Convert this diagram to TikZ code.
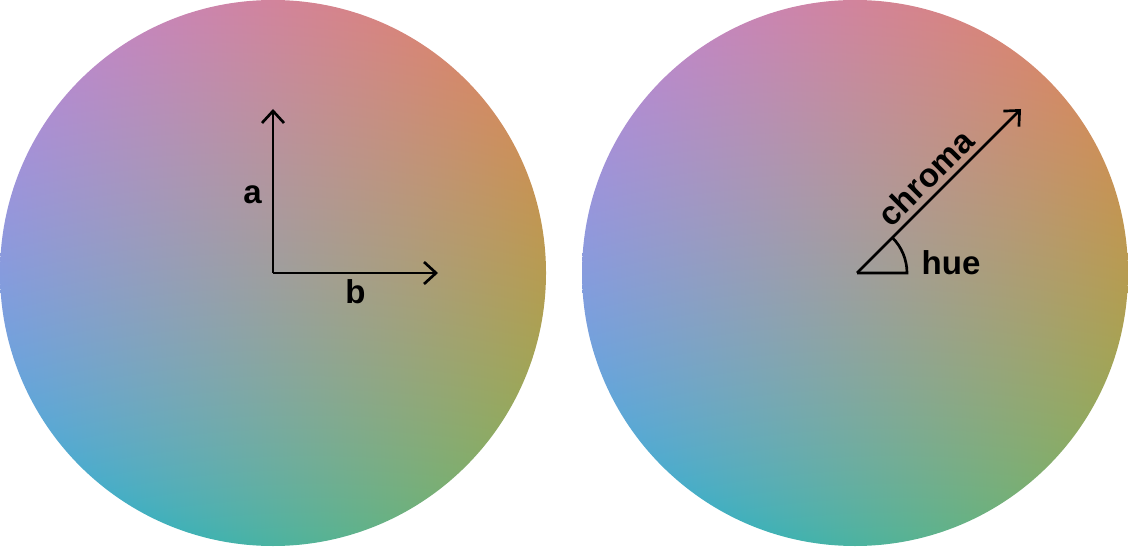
\documentclass[tikz,border=0pt]{standalone}
\usepackage{fontspec}
\setsansfont{Liberation Sans}
\usetikzlibrary{arrows.meta}
% a-b plane at L = 0.7, chroma 0.1 at the rim, converted to sRGB
\pgfdeclarefunctionalshading{labDisc}{\pgfpoint{-50bp}{-50bp}}{\pgfpoint{50bp}{50bp}}{}{
  25 div exch 25 div exch
  1 index 0.0215804 mul 1 index 0.0396338 mul add 0.7 add dup dup mul mul
  2 index -0.0063854 mul 2 index -0.0105561 mul add 0.7 add dup dup mul mul
  3 index -0.1291486 mul 3 index -0.0089484 mul add 0.7 add dup dup mul mul
  5 -2 roll pop pop
  2 index 4.0767417 mul 2 index -3.3077116 mul add 1 index 0.2309699 mul add
  3 index -1.2684380 mul 3 index 2.6097574 mul add 2 index -0.3413194 mul add
  4 index -0.0041961 mul 4 index -0.7034186 mul add 3 index 1.7076147 mul add
  6 -3 roll pop pop pop
  dup 0 lt {pop 0} if 0.416667 exp 1.055 mul 0.055 sub dup 0 lt {pop 0} if dup 1 gt {pop 1} if
  3 1 roll
  dup 0 lt {pop 0} if 0.416667 exp 1.055 mul 0.055 sub dup 0 lt {pop 0} if dup 1 gt {pop 1} if
  3 1 roll
  dup 0 lt {pop 0} if 0.416667 exp 1.055 mul 0.055 sub dup 0 lt {pop 0} if dup 1 gt {pop 1} if
  3 1 roll
}
\tikzset{
  labdisc/.style={shading=labDisc},
  labaxis/.style={-{Straight Barb[length=3mm,width=5.5mm]},line width=1.9pt,draw=black},
  labangle/.style={line width=1.9pt,draw=black},
  lablbl/.style={font=\sffamily\bfseries\fontsize{23.5}{28}\selectfont,text=black,inner sep=4pt},
}

\begin{document}
\begin{tikzpicture}[x=0.025cm,y=0.025cm]
  \useasboundingbox (0,0) rectangle (1128,546);

  % Cartesian disc: a and b axes
  \path[labdisc] (273,273) circle (273);
  \coordinate (abO) at (273,273);
  \coordinate (aTip) at (273,437);
  \coordinate (bTip) at (438,273);
  \draw[labaxis] (abO) -- node[lablbl,midway,left=3pt,yshift=-3pt] (aLbl) {a} (aTip);
  \draw[labaxis] (abO) -- node[lablbl,midway,below] (bLbl) {b} (bTip);

  % Polar disc: chroma and hue
  \path[labdisc] (855,273) circle (273);
  \coordinate (lchO) at (857,273);
  \coordinate (cTip) at (1021,437);
  \coordinate (hEnd) at (907,273);
  \draw[labaxis] (lchO) -- node[lablbl,midway,sloped,above] (cLbl) {chroma} (cTip);
  \draw[labangle] (lchO) -- (hEnd) arc (0:45:50);
  \node[lablbl,anchor=base] (hLbl) at (951,271) {hue};
\end{tikzpicture}
\end{document}
